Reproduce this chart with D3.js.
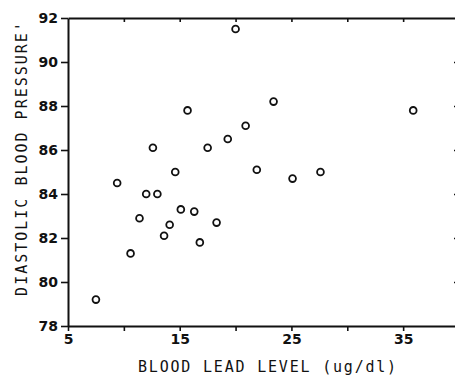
<!DOCTYPE html>
<html>
<head>
<meta charset="utf-8">
<script src="https://cdn.jsdelivr.net/npm/d3@7"></script>
<style>
  body { margin: 0; background: #fff; }
  svg { display: block; }
  .lbl { font-family: "DejaVu Sans Mono", monospace; fill: #111; }
  .num { font-family: "DejaVu Sans", sans-serif; font-weight: bold; fill: #111; }
</style>
</head>
<body>
<svg id="chart" width="455" height="375"></svg>
<script>
// values
const leadLevel = [7.5, 9.4, 10.6, 11.4, 12.0, 13.0, 12.6, 13.6, 14.1, 14.6, 15.1, 15.7,
                   16.3, 16.8, 17.5, 18.3, 19.3, 20.9, 20.0, 21.9, 23.4, 25.1, 27.6, 35.9];
const diastolic = [79.2, 84.5, 81.3, 82.9, 84.0, 84.0, 86.1, 82.1, 82.6, 85.0, 83.3, 87.8,
                   83.2, 81.8, 86.1, 82.7, 86.5, 87.1, 91.5, 85.1, 88.2, 84.7, 85.0, 87.8];
const xTicks = [5, 10, 15, 20, 25, 30, 35, 40];
const xTickLabels = [5, 15, 25, 35];
const yTicks = [78, 80, 82, 84, 86, 88, 90, 92];
const xTitle = "BLOOD LEAD LEVEL (ug/dl)";
const yTitle = "DIASTOLIC BLOOD PRESSURE'";

const data = leadLevel.map((d, i) => ({ lead: d, dbp: diastolic[i] }));

const svg = d3.select("#chart");

const x = d3.scaleLinear().domain([5, 40]).range([68, 459]);
const y = d3.scaleLinear().domain([78, 92]).range([326, 18]);

const ink = "#111";

// bottom axis
const bottomAxis = svg.append("g")
    .attr("transform", `translate(0,${y(78)})`)
    .call(d3.axisBottom(x).tickValues(xTicks).tickSize(5).tickSizeOuter(0)
        .tickFormat(d => xTickLabels.includes(d) ? d : ""));

// left axis
const leftAxis = svg.append("g")
    .attr("transform", `translate(${x(5)},0)`)
    .call(d3.axisLeft(y).tickValues(yTicks).tickSize(7).tickSizeOuter(0));

// top and right axes, ticks pointing in, no labels
const topAxis = svg.append("g")
    .attr("transform", `translate(0,${y(92)})`)
    .call(d3.axisBottom(x).tickValues(xTicks.slice(1, -1)).tickSize(4).tickSizeOuter(0).tickFormat(""));

const rightAxis = svg.append("g")
    .attr("transform", `translate(${x(40)},0)`)
    .call(d3.axisLeft(y).tickValues(yTicks.slice(1, -1)).tickSize(5).tickSizeOuter(0).tickFormat(""));

[bottomAxis, leftAxis, topAxis, rightAxis].forEach(g => {
    g.select(".domain").attr("stroke", ink).attr("stroke-width", 2);
    g.selectAll(".tick line").attr("stroke", ink).attr("stroke-width", 1.6);
});
rightAxis.select(".domain").remove();

bottomAxis.selectAll(".tick text")
    .attr("class", "num")
    .attr("y", 8)
    .style("font-size", "14px");

leftAxis.selectAll(".tick text")
    .attr("class", "num")
    .attr("x", -10)
    .style("font-size", "14px");

// axis titles
svg.append("text")
    .attr("class", "lbl")
    .attr("x", 268)
    .attr("y", 372)
    .attr("text-anchor", "middle")
    .style("font-size", "15px")
    .style("letter-spacing", "1.8px")
    .text(xTitle);

svg.append("text")
    .attr("class", "lbl")
    .attr("transform", "rotate(-90)")
    .attr("x", -158)
    .attr("y", 27)
    .attr("text-anchor", "middle")
    .style("font-size", "15px")
    .style("letter-spacing", "2px")
    .text(yTitle);

// points
svg.selectAll(".pt")
    .data(data)
    .enter().append("circle")
    .attr("class", "pt")
    .attr("cx", d => x(d.lead))
    .attr("cy", d => y(d.dbp))
    .attr("r", 3.4)
    .attr("fill", "none")
    .attr("stroke", ink)
    .attr("stroke-width", 1.8);
</script>
</body>
</html>
